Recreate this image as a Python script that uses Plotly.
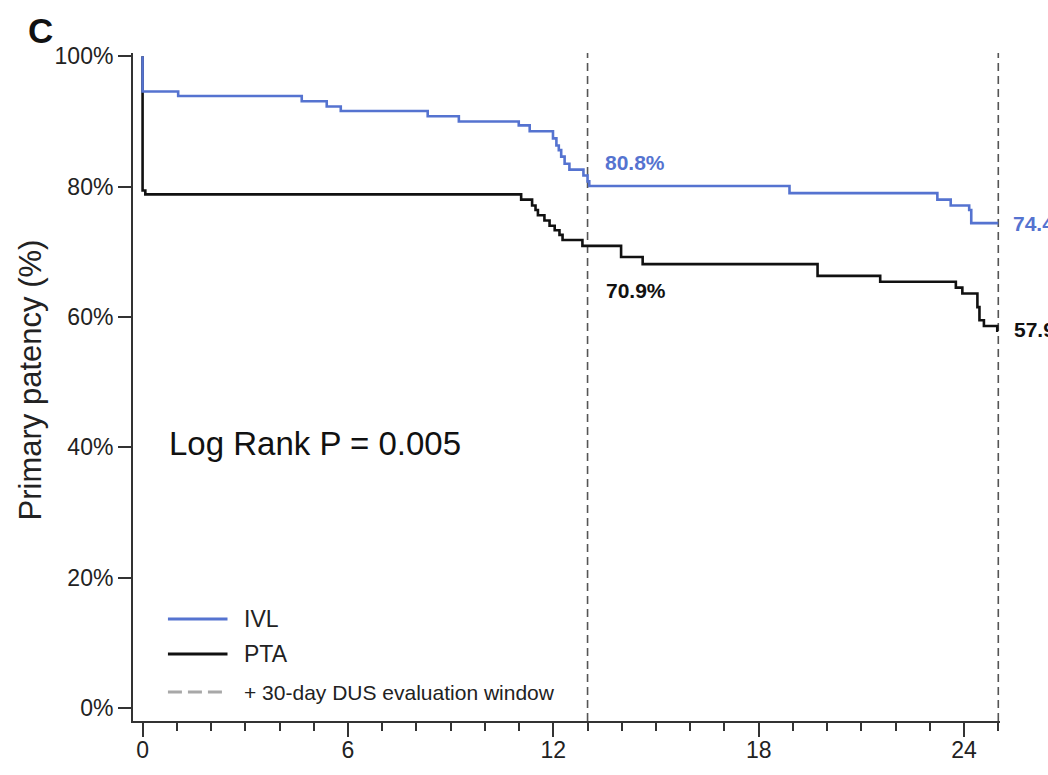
import plotly.graph_objects as go

# ---- data ----
ivl_months = [0, 0, 1.04, 4.65, 5.38, 5.79, 8.33, 9.24, 10.99, 11.31, 11.99, 12.09, 12.16,
              12.23, 12.33, 12.47, 12.88, 13.0, 13.05, 18.9, 23.22, 23.61, 24.15, 24.21, 25.0]
ivl_surv = [100, 94.6, 93.9, 93.1, 92.3, 91.6, 90.8, 90.0, 89.4, 88.5, 87.4, 86.3, 85.6,
            84.6, 83.5, 82.6, 81.7, 80.8, 80.1, 79.0, 78.0, 77.1, 76.4, 74.4, 74.4]

pta_months = [0, 0, 0.08, 11.06, 11.38, 11.48, 11.55, 11.74, 11.89, 12.04, 12.18, 12.27,
              12.85, 13.98, 14.61, 19.72, 21.55, 23.76, 23.95, 24.39, 24.45, 24.58, 24.97, 25.0]
pta_surv = [100, 79.4, 78.8, 78.0, 77.1, 76.4, 75.6, 74.8, 74.0, 73.3, 72.6, 71.8,
            70.9, 69.2, 68.1, 66.3, 65.4, 64.5, 63.6, 61.5, 59.5, 58.6, 57.9, 57.9]

window_months = [13, 25]
ivl_labels = ["80.8%", "74.4%"]
pta_labels = ["70.9%", "57.9%"]
ivl_label_y = [83.7, 74.4]
pta_label_y = [64.1, 58.0]

x_ticks = [0, 6, 12, 18, 24]
y_ticks = [0, 20, 40, 60, 80, 100]
y_tick_text = ["0%", "20%", "40%", "60%", "80%", "100%"]

BLUE = "#5573d0"
BLACK = "#111111"
AX = "#333333"
FONT = "Liberation Sans, Arial, Helvetica, sans-serif"

fig = go.Figure()
fig.add_trace(go.Scatter(x=pta_months, y=pta_surv, mode="lines", line_shape="hv",
                         line=dict(color=BLACK, width=2.6), name="PTA", showlegend=False))
fig.add_trace(go.Scatter(x=ivl_months, y=ivl_surv, mode="lines", line_shape="hv",
                         line=dict(color=BLUE, width=2.6), name="IVL", showlegend=False))

shapes = []
for m in window_months:
    shapes.append(dict(type="line", xref="x", yref="paper", x0=m, x1=m, y0=0, y1=1,
                       line=dict(color="#555555", width=1.6, dash="8px,5px"), layer="below"))

# manual legend
leg = [("IVL", BLUE, "solid", 0.1527, 23), ("PTA", BLACK, "solid", 0.1003, 23),
       ("+ 30-day DUS evaluation window", "#a8a8a8", "14px,6px", 0.0434, 21)]
annotations = []
for text, col, dash, yy, fs in leg:
    shapes.append(dict(type="line", xref="paper", yref="paper", x0=0.0403, x1=0.109,
                       y0=yy, y1=yy, line=dict(color=col, width=3.2, dash=dash)))
    annotations.append(dict(text=text, xref="paper", yref="paper", x=0.1256, y=yy,
                            xanchor="left", yanchor="middle", showarrow=False,
                            font=dict(size=fs, color="#222222", family=FONT)))

# value labels: first at the 13-month window (data x), second beyond the right edge (paper x)
label_x = [(13.44, "x"), (1.0123, "paper")]
pta_label_x = [(13.49, "x"), (1.0138, "paper")]
for txt, yy, (xx, xr) in zip(ivl_labels, ivl_label_y, label_x):
    annotations.append(dict(text="<b>%s</b>" % txt, x=xx, y=yy, xref=xr, yref="y",
                            xanchor="left", yanchor="middle", showarrow=False,
                            font=dict(size=21, color=BLUE, family=FONT)))
for txt, yy, (xx, xr) in zip(pta_labels, pta_label_y, pta_label_x):
    annotations.append(dict(text="<b>%s</b>" % txt, x=xx, y=yy, xref=xr, yref="y",
                            xanchor="left", yanchor="middle", showarrow=False,
                            font=dict(size=21, color=BLACK, family=FONT)))

annotations.append(dict(text="Log Rank P = 0.005", xref="paper", yref="paper", x=0.0388, y=0.416,
                        xanchor="left", yanchor="middle", showarrow=False,
                        font=dict(size=33, color="#111111", family=FONT)))
annotations.append(dict(text="<b>C</b>", xref="paper", yref="paper", x=-0.107, y=1.0344,
                        xanchor="center", yanchor="middle", showarrow=False,
                        font=dict(size=35, color="#111111", family=FONT)))
annotations.append(dict(text="Primary patency (%)", xref="paper", yref="paper", x=-0.1187, y=0.51,
                        xanchor="center", yanchor="middle", showarrow=False, textangle=-90,
                        font=dict(size=31, color="#222222", family=FONT)))

fig.update_layout(
    autosize=False,
    width=1048, height=775,
    margin=dict(l=133, r=48, t=53, b=54),
    paper_bgcolor="white", plot_bgcolor="white",
    font=dict(family=FONT, color="#222222"),
    shapes=shapes, annotations=annotations,
    xaxis=dict(range=[-0.28, 25.05], tickvals=x_ticks, ticks="outside", ticklen=14, tickwidth=2,
               tickcolor=AX, showline=True, linecolor=AX, linewidth=2, showgrid=False,
               zeroline=False, automargin=False, ticklabelstandoff=-7,
               tickfont=dict(size=23, color="#222222"),
               minor=dict(dtick=1, tick0=0, ticks="outside", ticklen=8, tickwidth=2,
                          tickcolor=AX, showgrid=False)),
    yaxis=dict(range=[-2, 100.5], tickvals=y_ticks, ticktext=y_tick_text, ticks="outside",
               ticklen=13, tickwidth=2, tickcolor=AX, showline=True, linecolor=AX, linewidth=2,
               showgrid=False, zeroline=False, automargin=False,
               tickfont=dict(size=23, color="#222222")),
)

fig.write_html("out.html", config={"displayModeBar": False, "responsive": False},
               post_script="document.body.style.margin='0px';")
